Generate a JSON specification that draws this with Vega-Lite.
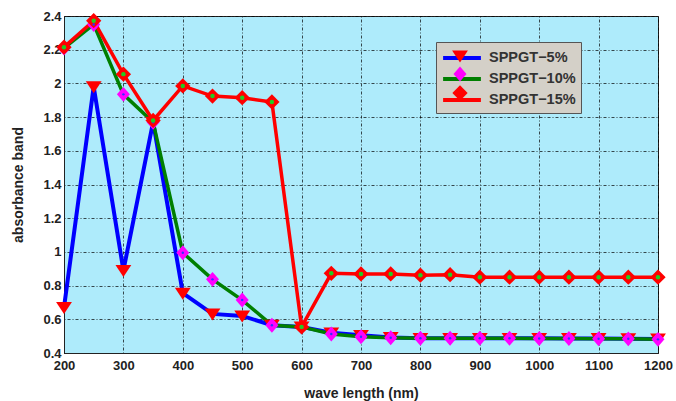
{
  "$schema": "https://vega.github.io/schema/vega-lite/v6.json",
  "width": 594,
  "height": 337,
  "autosize": "none",
  "padding": {"left": 64, "top": 16, "right": 18, "bottom": 48},
  "background": "white",
  "config": {
    "view": {"fill": "#AEEBFB", "stroke": "#222", "strokeWidth": 1},
    "axis": {
      "labelFont": "Liberation Sans", "labelFontSize": 13, "labelFontWeight": "bold", "labelColor": "#222",
      "titleFont": "Liberation Sans", "titleFontSize": 14, "titleFontWeight": "bold", "titleColor": "#222",
      "gridColor": "#000", "gridDash": [1, 2, 3, 2], "gridOpacity": 0.7, "domainColor": "#222", "ticks": false
    },
    "legend": {
      "orient": "none", "legendX": 372, "legendY": 26, "title": null, "padding": 5,
      "labelFont": "Liberation Sans", "labelFontSize": 14.5, "labelFontWeight": "bold", "labelColor": "#333",
      "symbolSize": 324, "symbolOffset": 10, "labelOffset": 16, "rowPadding": 2
    }
  },
  "datasets": {
    "d": [
      {"x": 200, "series": "SPPGT−5%", "y": 0.67},
      {"x": 250, "series": "SPPGT−5%", "y": 1.98},
      {"x": 300, "series": "SPPGT−5%", "y": 0.89},
      {"x": 350, "series": "SPPGT−5%", "y": 1.77},
      {"x": 400, "series": "SPPGT−5%", "y": 0.755},
      {"x": 450, "series": "SPPGT−5%", "y": 0.632},
      {"x": 500, "series": "SPPGT−5%", "y": 0.62},
      {"x": 550, "series": "SPPGT−5%", "y": 0.565},
      {"x": 600, "series": "SPPGT−5%", "y": 0.555},
      {"x": 650, "series": "SPPGT−5%", "y": 0.52},
      {"x": 700, "series": "SPPGT−5%", "y": 0.505},
      {"x": 750, "series": "SPPGT−5%", "y": 0.492},
      {"x": 800, "series": "SPPGT−5%", "y": 0.487},
      {"x": 850, "series": "SPPGT−5%", "y": 0.487},
      {"x": 900, "series": "SPPGT−5%", "y": 0.487},
      {"x": 950, "series": "SPPGT−5%", "y": 0.487},
      {"x": 1000, "series": "SPPGT−5%", "y": 0.487},
      {"x": 1050, "series": "SPPGT−5%", "y": 0.486},
      {"x": 1100, "series": "SPPGT−5%", "y": 0.486},
      {"x": 1150, "series": "SPPGT−5%", "y": 0.485},
      {"x": 1200, "series": "SPPGT−5%", "y": 0.483},
      {"x": 200, "series": "SPPGT−10%", "y": 2.21},
      {"x": 250, "series": "SPPGT−10%", "y": 2.35},
      {"x": 300, "series": "SPPGT−10%", "y": 1.935},
      {"x": 350, "series": "SPPGT−10%", "y": 1.77},
      {"x": 400, "series": "SPPGT−10%", "y": 0.995},
      {"x": 450, "series": "SPPGT−10%", "y": 0.837},
      {"x": 500, "series": "SPPGT−10%", "y": 0.714},
      {"x": 550, "series": "SPPGT−10%", "y": 0.565},
      {"x": 600, "series": "SPPGT−10%", "y": 0.555},
      {"x": 650, "series": "SPPGT−10%", "y": 0.513},
      {"x": 700, "series": "SPPGT−10%", "y": 0.497},
      {"x": 750, "series": "SPPGT−10%", "y": 0.49},
      {"x": 800, "series": "SPPGT−10%", "y": 0.487},
      {"x": 850, "series": "SPPGT−10%", "y": 0.487},
      {"x": 900, "series": "SPPGT−10%", "y": 0.487},
      {"x": 950, "series": "SPPGT−10%", "y": 0.487},
      {"x": 1000, "series": "SPPGT−10%", "y": 0.486},
      {"x": 1050, "series": "SPPGT−10%", "y": 0.486},
      {"x": 1100, "series": "SPPGT−10%", "y": 0.485},
      {"x": 1150, "series": "SPPGT−10%", "y": 0.484},
      {"x": 1200, "series": "SPPGT−10%", "y": 0.481},
      {"x": 200, "series": "SPPGT−15%", "y": 2.215},
      {"x": 250, "series": "SPPGT−15%", "y": 2.372},
      {"x": 300, "series": "SPPGT−15%", "y": 2.055},
      {"x": 350, "series": "SPPGT−15%", "y": 1.78},
      {"x": 400, "series": "SPPGT−15%", "y": 1.985},
      {"x": 450, "series": "SPPGT−15%", "y": 1.925},
      {"x": 500, "series": "SPPGT−15%", "y": 1.915},
      {"x": 550, "series": "SPPGT−15%", "y": 1.89},
      {"x": 600, "series": "SPPGT−15%", "y": 0.555},
      {"x": 650, "series": "SPPGT−15%", "y": 0.873},
      {"x": 700, "series": "SPPGT−15%", "y": 0.869},
      {"x": 750, "series": "SPPGT−15%", "y": 0.869},
      {"x": 800, "series": "SPPGT−15%", "y": 0.862},
      {"x": 850, "series": "SPPGT−15%", "y": 0.865},
      {"x": 900, "series": "SPPGT−15%", "y": 0.85},
      {"x": 950, "series": "SPPGT−15%", "y": 0.85},
      {"x": 1000, "series": "SPPGT−15%", "y": 0.85},
      {"x": 1050, "series": "SPPGT−15%", "y": 0.85},
      {"x": 1100, "series": "SPPGT−15%", "y": 0.85},
      {"x": 1150, "series": "SPPGT−15%", "y": 0.85},
      {"x": 1200, "series": "SPPGT−15%", "y": 0.85}
    ]
  },
  "data": {"name": "d"},
  "encoding": {
    "x": {
      "field": "x", "type": "quantitative",
      "scale": {"domain": [200, 1200], "nice": false},
      "axis": {"values": [200, 300, 400, 500, 600, 700, 800, 900, 1000, 1100, 1200], "format": "d", "title": "wave length (nm)", "labelPadding": 6, "titlePadding": 14, "labelOverlap": false, "labelFlush": false}
    },
    "y": {
      "field": "y", "type": "quantitative",
      "scale": {"domain": [0.4, 2.4], "nice": false, "zero": false},
      "axis": {"values": [0.4, 0.6, 0.8, 1, 1.2, 1.4, 1.6, 1.8, 2, 2.2, 2.4], "format": "~g", "title": "absorbance band", "labelPadding": 3, "titlePadding": 17, "labelOverlap": false}
    }
  },
  "layer": [
    {
      "transform": [{"filter": "datum.series == 'SPPGT−5%'"}],
      "mark": {"type": "line", "strokeWidth": 4},
      "encoding": {
        "stroke": {
          "field": "series", "type": "nominal",
          "scale": {"domain": ["SPPGT−5%", "SPPGT−10%", "SPPGT−15%"], "range": ["#0000FF", "#007F00", "#FF0000"]},
          "legend": {"symbolType": "M-2.1,0H2.1", "symbolStrokeWidth": 4, "fillColor": "#D4D0C8", "strokeColor": "#555", "zindex": 1}
        }
      }
    },
    {
      "transform": [{"filter": "datum.series == 'SPPGT−10%'"}],
      "mark": {"type": "line", "strokeWidth": 3.5},
      "encoding": {"stroke": {"field": "series", "type": "nominal", "scale": {"domain": ["SPPGT−5%", "SPPGT−10%", "SPPGT−15%"]}}}
    },
    {
      "transform": [{"filter": "datum.series == 'SPPGT−15%'"}],
      "mark": {"type": "line", "strokeWidth": 3.5},
      "encoding": {"stroke": {"field": "series", "type": "nominal", "scale": {"domain": ["SPPGT−5%", "SPPGT−10%", "SPPGT−15%"]}}}
    },
    {
      "mark": {"type": "point", "filled": true, "size": 324, "strokeWidth": 0, "opacity": 1},
      "encoding": {
        "fill": {
          "field": "series", "type": "nominal", "sort": null,
          "scale": {"range": ["#FF0000", "#FF00FF", "#FF0000"]},
          "legend": {"labelExpr": "''", "zindex": 2, "symbolStrokeWidth": 0, "symbolOpacity": 1}
        },
        "shape": {
          "field": "series", "type": "nominal", "sort": null,
          "scale": {"range": ["M-0.88,-0.6L0.88,-0.6L0,0.72Z", "M0,-0.83L0.72,0L0,0.83L-0.72,0Z", "M0,-0.85L0.85,0L0,0.85L-0.85,0Z"]},
          "legend": {"labelExpr": "''", "zindex": 2, "symbolStrokeWidth": 0, "symbolOpacity": 1}
        }
      }
    },
    {
      "transform": [{"filter": "datum.series == 'SPPGT−10%'"}],
      "mark": {"type": "circle", "size": 6, "color": "#3030FF", "opacity": 1},
      "encoding": {}
    },
    {
      "transform": [{"filter": "datum.series == 'SPPGT−15%'"}],
      "mark": {"type": "circle", "size": 20, "color": "#22CC22", "opacity": 1},
      "encoding": {}
    }
  ]
}
